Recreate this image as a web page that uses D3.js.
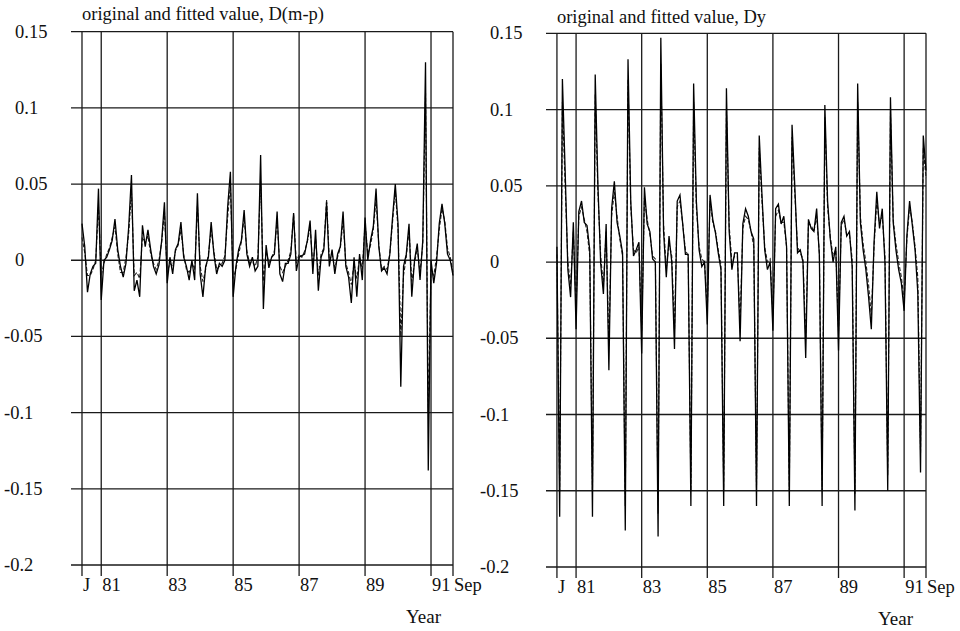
<!DOCTYPE html>
<html>
<head>
<meta charset="utf-8">
<script src="https://cdn.jsdelivr.net/npm/d3@7"></script>
<style>
  body { margin: 0; background: #fff; }
</style>
</head>
<body>
<script>
// monthly data, month 0 = June 1980 ... month 135 = Sep 1991
let yTicks = [0.15, 0.1, 0.05, 0, -0.05, -0.1, -0.15, -0.2]
let yTickLabels = ['0.15', '0.1', '0.05', '0', '-0.05', '-0.1', '-0.15', '-0.2']
let xTickMonths = [0, 7, 31, 55, 79, 103, 127, 135]
let xTickLabels = ['J', '81', '83', '85', '87', '89', '91', 'Sep']

let mpActual = [
  0.024, 0.009, -0.021, -0.009, -0.004, -0.002, 0.047, -0.026, 0.000, 0.002, 0.007, 0.013,
  0.027, 0.007, -0.004, -0.011, -0.002, 0.022, 0.056, -0.020, -0.013, -0.024, 0.023, 0.009,
  0.020, 0.007, -0.004, -0.009, -0.003, 0.013, 0.038, -0.015, 0.002, -0.009, 0.007, 0.011,
  0.025, 0.002, -0.004, -0.013, 0.000, -0.013, 0.044, -0.009, -0.024, -0.004, 0.002, 0.025,
  0.004, -0.009, -0.002, -0.004, 0.000, 0.035, 0.058, -0.024, -0.004, 0.007, 0.013, 0.033,
  0.004, -0.004, 0.002, -0.007, -0.004, 0.069, -0.032, 0.010, -0.005, 0.002, 0.004, 0.032,
  -0.009, -0.014, -0.002, -0.002, 0.004, 0.031, -0.007, 0.002, 0.003, 0.004, 0.013, 0.026,
  -0.009, 0.020, -0.020, 0.002, 0.007, 0.038, -0.004, 0.007, -0.009, 0.004, 0.009, 0.032,
  -0.004, -0.011, -0.028, 0.002, -0.024, 0.004, -0.013, 0.028, 0.000, 0.013, 0.022, 0.047,
  0.009, -0.007, -0.005, -0.009, 0.004, 0.028, 0.050, 0.024, -0.083, -0.004, 0.004, 0.024,
  -0.024, 0.000, 0.011, -0.013, 0.013, 0.130, -0.138, 0.000, -0.015, -0.002, 0.024, 0.037,
  0.024, 0.004, 0.000, -0.010
]
let mpFitted = [
  0.015, 0.005, -0.010, -0.010, -0.006, 0.000, 0.035, -0.010, -0.002, 0.004, 0.008, 0.015,
  0.022, 0.004, -0.008, -0.008, 0.002, 0.018, 0.045, -0.010, -0.008, -0.012, 0.015, 0.012,
  0.016, 0.004, -0.002, -0.006, 0.000, 0.012, 0.032, -0.008, -0.002, -0.004, 0.006, 0.010,
  0.020, 0.004, -0.006, -0.008, -0.002, -0.006, 0.036, -0.004, -0.014, -0.006, 0.004, 0.020,
  0.006, -0.006, -0.004, -0.002, 0.003, 0.028, 0.050, -0.012, -0.006, 0.004, 0.012, 0.028,
  0.006, -0.002, -0.001, -0.004, 0.002, 0.052, -0.014, 0.006, -0.002, 0.002, 0.006, 0.026,
  -0.004, -0.008, -0.004, 0.000, 0.006, 0.030, -0.002, 0.004, 0.002, 0.006, 0.012, 0.022,
  -0.004, 0.014, -0.010, 0.004, 0.008, 0.040, 0.000, 0.004, -0.005, 0.002, 0.008, 0.026,
  -0.002, -0.008, -0.016, -0.002, -0.012, 0.002, -0.006, 0.024, 0.004, 0.010, 0.020, 0.040,
  0.010, -0.006, -0.004, -0.006, 0.004, 0.025, 0.046, 0.020, -0.050, -0.010, 0.002, 0.020,
  -0.014, -0.002, 0.008, -0.008, 0.010, 0.110, -0.100, -0.006, -0.010, 0.002, 0.020, 0.034,
  0.026, 0.008, 0.002, -0.008
]

let dyActual = [
  0.010, -0.167, 0.120, 0.060, -0.005, -0.023, 0.026, -0.044, 0.033, 0.040, 0.026, 0.024,
  0.008, -0.167, 0.123, 0.050, -0.001, -0.021, 0.025, -0.071, 0.035, 0.053, 0.026, 0.017,
  0.006, -0.176, 0.133, 0.040, 0.004, 0.008, 0.013, -0.060, 0.049, 0.025, 0.020, 0.002,
  0.000, -0.180, 0.147, 0.020, -0.010, 0.017, 0.000, -0.057, 0.040, 0.044, 0.025, 0.005,
  0.005, -0.160, 0.117, 0.040, 0.008, -0.003, 0.000, -0.041, 0.044, 0.028, 0.019, 0.006,
  -0.005, -0.160, 0.114, 0.020, -0.005, 0.006, 0.006, -0.052, 0.025, 0.035, 0.030, 0.020,
  0.015, -0.160, 0.083, 0.044, 0.008, -0.005, 0.000, -0.045, 0.035, 0.038, 0.025, 0.030,
  0.010, -0.160, 0.090, 0.050, 0.006, 0.008, 0.000, -0.063, 0.028, 0.022, 0.020, 0.035,
  0.004, -0.160, 0.103, 0.040, 0.015, 0.000, 0.010, -0.058, 0.026, 0.030, 0.017, 0.020,
  -0.003, -0.163, 0.117, 0.026, 0.008, -0.005, -0.023, -0.044, 0.013, 0.046, 0.022, 0.035,
  -0.001, -0.150, 0.108, 0.026, 0.008, -0.005, -0.014, -0.032, 0.017, 0.040, 0.024, 0.008,
  -0.020, -0.138, 0.083, 0.060
]
let dyFitted = [
  0.005, -0.150, 0.105, 0.050, 0.000, -0.015, 0.020, -0.030, 0.030, 0.036, 0.028, 0.020,
  0.004, -0.150, 0.110, 0.045, 0.004, -0.015, 0.020, -0.055, 0.030, 0.046, 0.030, 0.015,
  0.004, -0.160, 0.120, 0.036, 0.008, 0.006, 0.010, -0.045, 0.042, 0.028, 0.018, 0.004,
  0.002, -0.165, 0.130, 0.025, -0.004, 0.012, 0.004, -0.045, 0.036, 0.040, 0.025, 0.008,
  0.004, -0.150, 0.105, 0.036, 0.010, 0.002, 0.000, -0.032, 0.040, 0.026, 0.020, 0.008,
  -0.002, -0.150, 0.100, 0.024, 0.000, 0.004, 0.004, -0.040, 0.022, 0.030, 0.028, 0.020,
  0.010, -0.148, 0.075, 0.040, 0.010, 0.000, 0.002, -0.035, 0.030, 0.034, 0.026, 0.026,
  0.010, -0.150, 0.082, 0.045, 0.010, 0.006, 0.002, -0.050, 0.025, 0.024, 0.020, 0.030,
  0.006, -0.150, 0.095, 0.036, 0.016, 0.004, 0.008, -0.045, 0.024, 0.028, 0.018, 0.018,
  0.002, -0.152, 0.105, 0.030, 0.012, 0.000, -0.015, -0.035, 0.010, 0.040, 0.025, 0.030,
  0.004, -0.140, 0.098, 0.028, 0.012, 0.000, -0.010, -0.025, 0.015, 0.036, 0.026, 0.010,
  -0.010, -0.125, 0.075, 0.055
]

let width = 960
let height = 631
let serif = "'Liberation Serif', 'Times New Roman', Times, serif"

let svg = d3.select('body').append('svg')
  .attr('width', width)
  .attr('height', height)
  .attr('font-family', serif)
  .attr('fill', '#111')

let panels = [
  {title: 'original and fitted value, D(m-p)', actual: mpActual, fitted: mpFitted,
   left: 71, right: 453, top: 31.7, bottom: 565, labelX: 15, negX: 4, titleY: 19.5, yearX: 406, yearY: 623},
  {title: 'original and fitted value, Dy', actual: dyActual, fitted: dyFitted,
   left: 546, right: 926, top: 33.3, bottom: 567, labelX: 490, negX: 480, titleY: 23, yearX: 878, yearY: 625}
]

let drawPanel = (p) => {
  let xScale = d3.scaleLinear().domain([-4, 135]).range([p.left, p.right])
  let yScale = d3.scaleLinear().domain([-0.2, 0.15]).range([p.bottom, p.top])
  let g = svg.append('g')

  // horizontal grid
  g.selectAll('.hgrid')
    .data(yTicks)
    .enter()
    .append('line')
    .attr('x1', p.left)
    .attr('x2', xScale(135))
    .attr('y1', d => yScale(d))
    .attr('y2', d => yScale(d))
    .attr('stroke', '#1a1a1a')
    .attr('stroke-width', 1.3)

  // vertical grid, runs a bit below the frame as tick marks
  g.selectAll('.vgrid')
    .data(xTickMonths)
    .enter()
    .append('line')
    .attr('x1', d => xScale(d))
    .attr('x2', d => xScale(d))
    .attr('y1', p.top)
    .attr('y2', p.bottom + 11)
    .attr('stroke', '#1a1a1a')
    .attr('stroke-width', 1.3)

  g.selectAll('.ylab')
    .data(yTicks)
    .enter()
    .append('text')
    .attr('x', (d) => d < 0 ? p.negX : p.labelX)
    .attr('y', d => yScale(d) + 6)
    .attr('font-size', 18.5)
    .text((d, i) => yTickLabels[i])

  g.selectAll('.xlab')
    .data(xTickMonths)
    .enter()
    .append('text')
    .attr('x', d => xScale(d) + 1)
    .attr('y', p.bottom + 26)
    .attr('font-size', 18.5)
    .text((d, i) => xTickLabels[i])

  let line = d3.line()
    .x((d, i) => xScale(i))
    .y(d => yScale(d))

  g.append('path')
    .datum(p.fitted)
    .attr('d', line)
    .attr('fill', 'none')
    .attr('stroke', '#222')
    .attr('stroke-width', 1.1)
    .attr('stroke-dasharray', '4,2')

  g.append('path')
    .datum(p.actual)
    .attr('d', line)
    .attr('fill', 'none')
    .attr('stroke', '#000')
    .attr('stroke-width', 1.3)

  g.append('text')
    .attr('x', xScale(0))
    .attr('y', p.titleY)
    .attr('font-size', 18.5)
    .text(p.title)

  g.append('text')
    .attr('x', p.yearX)
    .attr('y', p.yearY)
    .attr('font-size', 19)
    .text('Year')
}

panels.forEach(drawPanel)
</script>
</body>
</html>
